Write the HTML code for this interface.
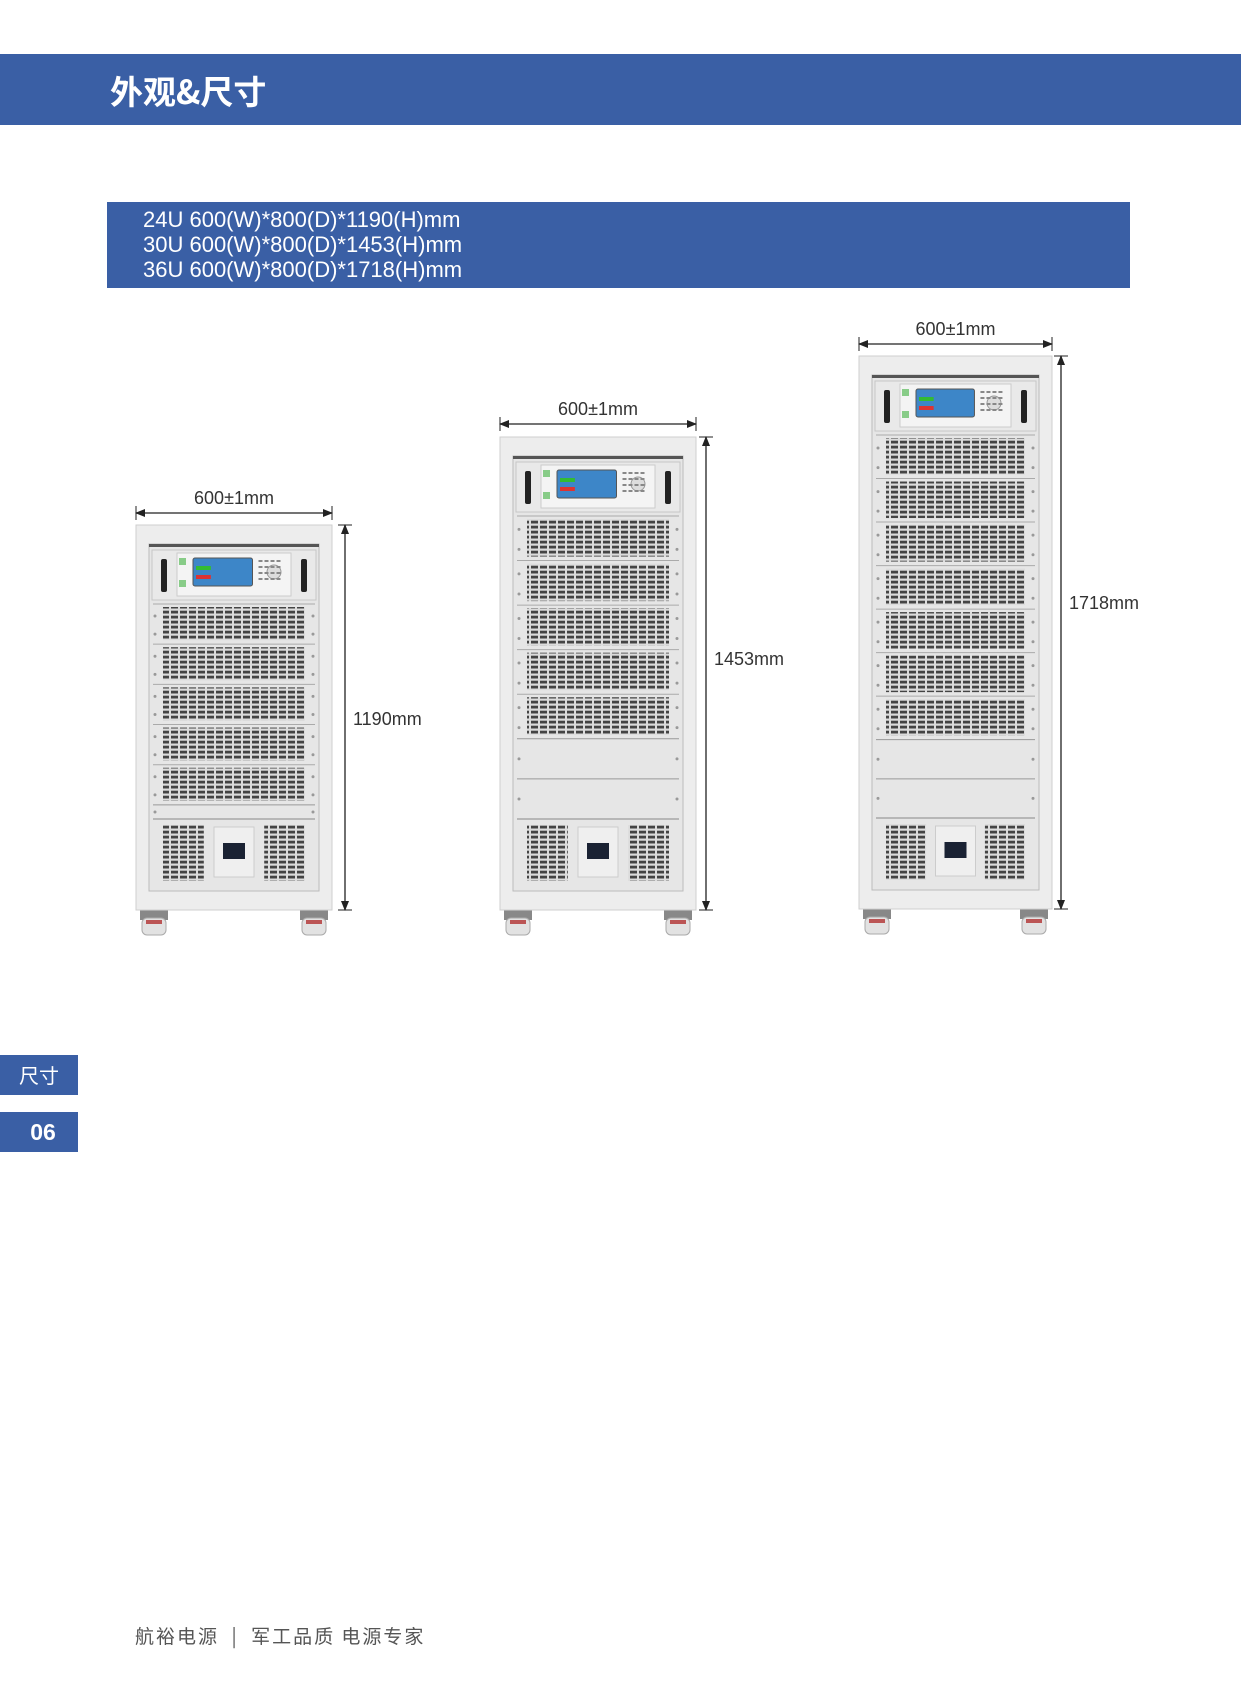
<!DOCTYPE html>
<html><head><meta charset="utf-8">
<style>
html,body{margin:0;padding:0;background:#fff;}
body{width:1241px;height:1684px;position:relative;overflow:hidden;font-family:"Liberation Sans","Noto Sans CJK SC",sans-serif;}
.band{position:absolute;left:0;top:54px;width:1241px;height:71px;background:#3a5fa5;}
.title{position:absolute;left:110px;top:66px;color:#fff;font-size:33px;font-weight:bold;font-family:"Noto Sans CJK SC",sans-serif;}
.spec{position:absolute;left:107px;top:202px;width:1023px;height:86px;background:#3a5fa5;}
.spec div{position:absolute;left:36px;color:#fff;font-size:22px;line-height:25px;}
.tab{position:absolute;left:0;width:78px;background:#3a5fa5;color:#fff;text-align:center;}
.foot{position:absolute;left:135px;top:1622px;font-size:19px;color:#555;font-family:"Noto Sans CJK SC",sans-serif;letter-spacing:2px;}
svg{position:absolute;left:0;top:0;}
</style></head><body>
<div class="band"></div>
<div class="title">外观&amp;尺寸</div>
<div class="spec">
<div style="top:5px">24U 600(W)*800(D)*1190(H)mm</div>
<div style="top:30px">30U 600(W)*800(D)*1453(H)mm</div>
<div style="top:55px">36U 600(W)*800(D)*1718(H)mm</div>
</div>
<div class="tab" style="top:1055px;height:40px;line-height:40px;font-size:20px;font-family:'Noto Sans CJK SC',sans-serif;">尺寸</div>
<div class="tab" style="top:1112px;height:40px;line-height:40px;font-size:23px;font-weight:bold;padding-left:8px;width:70px;">06</div>
<div class="foot">航裕电源 &nbsp;|&nbsp; 军工品质 电源专家</div>
<svg id="s" width="1241" height="1684" xmlns="http://www.w3.org/2000/svg">
<defs>
<pattern id="vent" width="9" height="5" patternUnits="userSpaceOnUse">
<rect width="9" height="5" fill="#dcdcdc"/><rect x="0" y="0.7" width="7" height="2.8" fill="#444"/>
</pattern>
<marker id="ar" markerWidth="10" markerHeight="10" refX="9" refY="5" orient="auto-start-reverse" markerUnits="userSpaceOnUse">
<path d="M0,1 L10,5 L0,9 Z" fill="#222"/></marker>
</defs>
</svg>
<script>
var s=document.getElementById('s'),NS='http://www.w3.org/2000/svg';
function el(t,a,txt){var e=document.createElementNS(NS,t);for(var k in a)e.setAttribute(k,a[k]);if(txt)e.textContent=txt;s.appendChild(e);return e;}
function cab(x,y,w,h,nv,nb,bf,vx,lbl,wy,ly){
 el('line',{x1:x,y1:wy,x2:x+w,y2:wy,stroke:'#222','stroke-width':1.3,'marker-start':'url(#ar)','marker-end':'url(#ar)'});
 el('line',{x1:x,y1:wy-7,x2:x,y2:wy+7,stroke:'#222'});el('line',{x1:x+w,y1:wy-7,x2:x+w,y2:wy+7,stroke:'#222'});
 el('text',{x:x+w/2,y:wy-9,'text-anchor':'middle','font-size':18,fill:'#333','font-family':'Liberation Sans'},'600±1mm');
 el('line',{x1:vx,y1:y,x2:vx,y2:y+h,stroke:'#222','stroke-width':1.3,'marker-start':'url(#ar)','marker-end':'url(#ar)'});
 el('line',{x1:vx-7,y1:y,x2:vx+7,y2:y,stroke:'#222'});el('line',{x1:vx-7,y1:y+h,x2:vx+7,y2:y+h,stroke:'#222'});
 el('text',{x:vx+8,y:ly,'font-size':18,fill:'#333','font-family':'Liberation Sans'},lbl);
 [x+4,x+w-32].forEach(function(fx){el('rect',{x:fx,y:y+h,width:28,height:10,fill:'#888'});el('rect',{x:fx+2,y:y+h+8,width:24,height:17,rx:5,fill:'#e2e2e2',stroke:'#aaa'});el('rect',{x:fx+6,y:y+h+10,width:16,height:4,fill:'#b55'});});
 el('rect',{x:x,y:y,width:w,height:h,fill:'#ededed',stroke:'#cfcfcf'});
 var ix=x+13,iw=w-26,iy=y+19,ih=h-38;
 el('rect',{x:ix,y:iy,width:iw,height:ih,fill:'#e6e6e6',stroke:'#bcbcbc'});
 el('rect',{x:ix,y:iy,width:iw,height:3,fill:'#555'});
 var py=iy+6,ph=50;
 el('rect',{x:ix+3,y:py,width:iw-6,height:ph,fill:'#e9e9e9',stroke:'#c6c6c6'});
 el('rect',{x:ix+12,y:py+9,width:6,height:33,rx:2,fill:'#222'});el('rect',{x:ix+iw-18,y:py+9,width:6,height:33,rx:2,fill:'#222'});
 el('rect',{x:ix+28,y:py+3,width:iw-56,height:ph-7,fill:'#f4f4f4',stroke:'#ccc'});
 el('rect',{x:ix+30,y:py+8,width:7,height:7,fill:'#8c8'});el('rect',{x:ix+30,y:py+30,width:7,height:7,fill:'#8c8'});
 var sx=ix+44,sw=iw*0.35;
 el('rect',{x:sx,y:py+8,width:sw,height:28,rx:2,fill:'#3d86c8',stroke:'#555'});
 el('rect',{x:sx+3,y:py+16,width:sw*0.25,height:4,fill:'#3b3'});el('rect',{x:sx+3,y:py+25,width:sw*0.25,height:4,fill:'#d33'});
 el('circle',{cx:ix+iw-45,cy:py+22,r:7,fill:'#ddd',stroke:'#999'});
 for(var r=0;r<4;r++)for(var c=0;c<4;c++)el('rect',{x:sx+sw+6+c*6,y:py+10+r*6,width:4,height:2,fill:'#888'});
 var top=py+ph+4,bot=iy+ih-72,avail=bot-top,m=avail/(nv+nb*bf),cy=top;
 for(var i=0;i<nv;i++){
  el('line',{x1:ix+4,y1:cy,x2:ix+iw-4,y2:cy,stroke:'#aaa'});
  el('rect',{x:ix+14,y:cy+3,width:iw-28,height:m-7,fill:'url(#vent)'});
  [ix+5,ix+iw-7].forEach(function(hx){el('circle',{cx:hx+1,cy:cy+m*0.3,r:1.5,fill:'#999'});el('circle',{cx:hx+1,cy:cy+m*0.75,r:1.5,fill:'#999'});});
  cy+=m;
 }
 for(var j=0;j<nb;j++){el('line',{x1:ix+4,y1:cy,x2:ix+iw-4,y2:cy,stroke:'#999'});el('circle',{cx:ix+6,cy:cy+m*bf*0.5,r:1.5,fill:'#999'});el('circle',{cx:ix+iw-6,cy:cy+m*bf*0.5,r:1.5,fill:'#999'});cy+=m*bf;}
 el('line',{x1:ix+4,y1:cy,x2:ix+iw-4,y2:cy,stroke:'#888'});
 var by=cy+4,bh=iy+ih-by-8;
 el('rect',{x:ix+14,y:by+2,width:iw*0.24,height:bh-4,fill:'url(#vent)'});
 el('rect',{x:ix+iw-14-iw*0.24,y:by+2,width:iw*0.24,height:bh-4,fill:'url(#vent)'});
 el('rect',{x:ix+iw/2-20,y:by+4,width:40,height:bh-10,fill:'#efefef',stroke:'#ccc'});
 el('rect',{x:ix+iw/2-11,y:by+bh/2-10,width:22,height:16,fill:'#1a2233'});
}
cab(136,525,196,385,5,1,0.35,345,'1190mm',513,725);
cab(500,437,196,473,5,2,0.9,706,'1453mm',424,665);
cab(859,356,193,553,7,2,0.9,1061,'1718mm',344,609);
</script>
</body></html>
